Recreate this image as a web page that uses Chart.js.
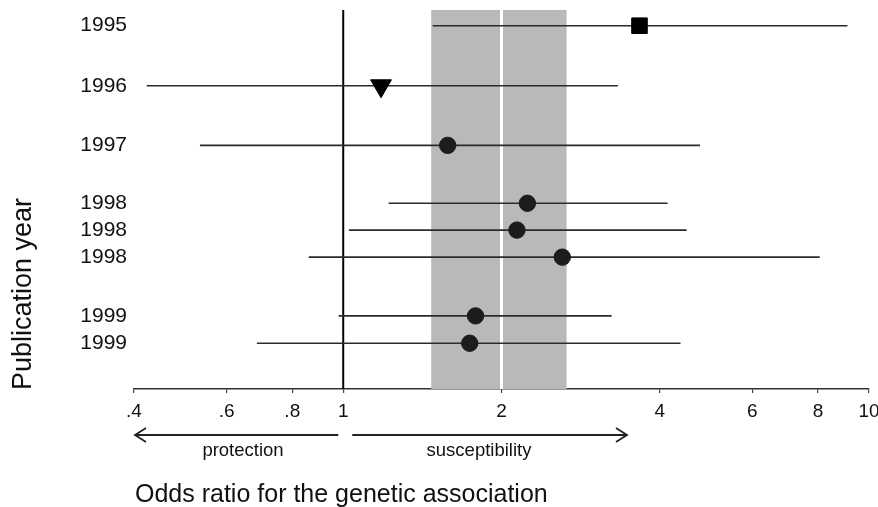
<!DOCTYPE html>
<html><head><meta charset="utf-8">
<script src="https://cdn.jsdelivr.net/npm/chart.js@4.4.1/dist/chart.umd.min.js"></script>
<style>html,body{margin:0;padding:0;background:#fff;}#wrap{width:878px;height:507px;position:relative;}</style>
</head><body><div id="wrap"><canvas id="c" width="878" height="507"></canvas></div>
<script>
// ---- data ----
const yearLabels = ['1995', '1996', '1997', '1998', '1998', '1998', '1999', '1999'];
const rowPos     = [0.58, 2.8, 5.0, 7.14, 8.13, 9.13, 11.3, 12.31];
const oddsRatio  = [3.66, 1.18, 1.58, 2.24, 2.14, 2.61, 1.785, 1.74];
const ciLow      = [1.48, 0.423, 0.534, 1.22, 1.025, 0.86, 0.98, 0.685];
const ciHigh     = [9.1, 3.33, 4.77, 4.14, 4.5, 8.06, 3.24, 4.38];
const markerType = ['rect', 'triangle', 'circle', 'circle', 'circle', 'circle', 'circle', 'circle'];
const xTickValues = [0.4, 0.6, 0.8, 1, 2, 4, 6, 8, 10];
const xTickLabels = ['.4', '.6', '.8', '1', '2', '4', '6', '8', '10'];
const pooledOR   = 2.0;
const pooledLow  = 1.47;
const pooledHigh = 2.66;
const nullValue  = 1;

const FONT = '"Liberation Sans", Arial, sans-serif';
const TEXT = '#111';

// ---- datasets ----
const ciSets = rowPos.map((r, i) => ({
  type: 'line',
  data: [{x: ciLow[i], y: r}, {x: ciHigh[i], y: r}],
  borderColor: '#2b2b2b',
  borderWidth: 1.6,
  pointRadius: 0,
  fill: false,
  order: 2
}));
const markerSet = {
  type: 'scatter',
  data: rowPos.map((r, i) => ({x: oddsRatio[i], y: r})),
  pointStyle: markerType,
  pointRadius: markerType.map(t => t === 'rect' ? 11 : (t === 'triangle' ? 12 : 8.2)),
  pointRotation: markerType.map(t => t === 'triangle' ? 180 : 0),
  backgroundColor: markerType.map(t => t === 'circle' ? '#1c1c1c' : '#000'),
  borderColor: markerType.map(t => t === 'circle' ? '#1c1c1c' : '#000'),
  borderWidth: 1,
  order: 1
};

// ---- plugins ----
const backdrop = {
  id: 'backdrop',
  beforeDatasetsDraw(chart) {
    const {ctx, chartArea: a, scales: {x}} = chart;
    ctx.save();
    const l = x.getPixelForValue(pooledLow), h = x.getPixelForValue(pooledHigh);
    ctx.fillStyle = '#b9b9b9';
    ctx.fillRect(l, a.top, h - l, a.bottom - a.top);
    const p = x.getPixelForValue(pooledOR);
    ctx.strokeStyle = '#ffffff';
    ctx.lineWidth = 3;
    ctx.beginPath(); ctx.moveTo(p, a.top); ctx.lineTo(p, a.bottom); ctx.stroke();
    const n = x.getPixelForValue(nullValue);
    ctx.strokeStyle = '#000';
    ctx.lineWidth = 2;
    ctx.beginPath(); ctx.moveTo(n, a.top); ctx.lineTo(n, a.bottom); ctx.stroke();
    ctx.restore();
  }
};

const annotations = {
  id: 'annotations',
  afterDraw(chart) {
    const {ctx, scales: {x}} = chart;
    ctx.save();
    const ay = 435;
    const x0 = x.getPixelForValue(0.4) + 1;
    const x1 = x.getPixelForValue(1) - 5;
    const x2 = x.getPixelForValue(1) + 9;
    const x3 = 627;
    ctx.strokeStyle = '#222';
    ctx.lineWidth = 1.8;
    ctx.beginPath();
    ctx.moveTo(x0, ay); ctx.lineTo(x1, ay);
    ctx.moveTo(x0 + 11, ay - 7); ctx.lineTo(x0, ay); ctx.lineTo(x0 + 11, ay + 7);
    ctx.moveTo(x2, ay); ctx.lineTo(x3, ay);
    ctx.moveTo(x3 - 11, ay - 7); ctx.lineTo(x3, ay); ctx.lineTo(x3 - 11, ay + 7);
    ctx.stroke();

    ctx.fillStyle = TEXT;
    ctx.textAlign = 'center';
    ctx.textBaseline = 'middle';
    ctx.font = '18.5px ' + FONT;
    ctx.fillText('protection', 243, 451);
    ctx.fillText('susceptibility', 479, 451);

    ctx.textAlign = 'left';
    ctx.textBaseline = 'alphabetic';
    ctx.font = '25px ' + FONT;
    ctx.fillText('Odds ratio for the genetic association', 135, 502);

    ctx.translate(24, 294);
    ctx.rotate(-Math.PI / 2);
    ctx.textAlign = 'center';
    ctx.textBaseline = 'middle';
    ctx.font = '27px ' + FONT;
    ctx.fillText('Publication year', 0, 0);
    ctx.restore();
  }
};

const noPad = () => ({left: 0, top: 0, right: 0, bottom: 0});

new Chart(document.getElementById('c'), {
  data: {datasets: [markerSet, ...ciSets]},
  options: {
    responsive: false,
    animation: false,
    events: [],
    layout: {autoPadding: false, padding: {top: 10, right: 9, left: 0, bottom: 0}},
    plugins: {legend: {display: false}, tooltip: {enabled: false}},
    scales: {
      x: {
        type: 'logarithmic',
        min: 0.4, max: 10,
        afterBuildTicks(s) { s.ticks = xTickValues.map(v => ({value: v})); },
        afterFit(s) { s.height = 118; s.paddingLeft = 0; s.paddingRight = 0; s.getPadding = noPad; },
        ticks: {
          autoSkip: false, maxRotation: 0, padding: 7,
          color: TEXT, font: {family: FONT, size: 19},
          callback: (v, i) => xTickLabels[i]
        },
        grid: {drawOnChartArea: false, drawTicks: true, tickLength: 4, color: '#444', lineWidth: 1.2},
        border: {display: true, color: '#333', width: 1.6}
      },
      y: {
        type: 'linear', reverse: true, min: 0, max: 14,
        afterBuildTicks(s) { s.ticks = rowPos.map(v => ({value: v})); },
        afterFit(s) { s.width = 134; s.paddingTop = 0; s.paddingBottom = 0; s.getPadding = noPad; },
        ticks: {
          autoSkip: false, padding: 7,
          color: TEXT, font: {family: FONT, size: 21},
          callback: (v, i) => yearLabels[i]
        },
        grid: {display: false, drawTicks: false},
        border: {display: false}
      }
    }
  },
  plugins: [backdrop, annotations]
});
</script></body></html>
